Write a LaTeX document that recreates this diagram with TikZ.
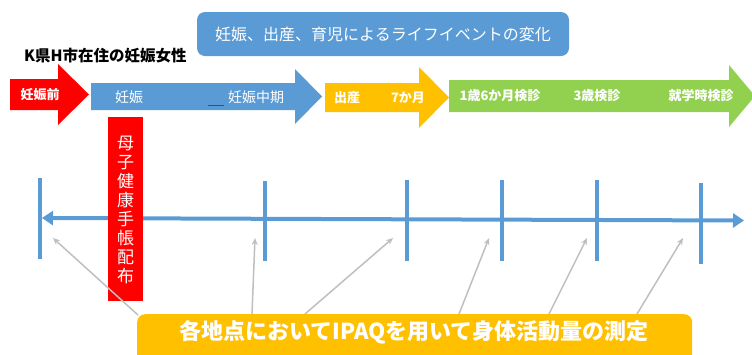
\documentclass[tikz,border=0pt]{standalone}
\usepackage{fontspec}
\setmainfont{Noto Sans CJK JP}
\usetikzlibrary{arrows.meta}
\definecolor{cblue}{HTML}{5B9BD5}
\definecolor{corange}{HTML}{FFC000}
\definecolor{cgreen}{HTML}{92D050}
\definecolor{cred}{HTML}{FF0000}
\definecolor{cgray}{HTML}{BFBFBF}
\begin{document}
\begin{tikzpicture}[x=1pt,y=-1pt,
  lbl/.style={text=white,inner sep=0pt,font=\fontsize{13}{15}\selectfont},
  lblb/.style={lbl,font=\fontsize{13}{15}\selectfont\bfseries},
  tick/.style={draw=cblue,line width=4pt},
  pointer/.style={draw=cgray,line width=1.5pt,-{Stealth[length=7pt,width=6pt]}}]
\useasboundingbox (0,0) rectangle (752,354);
% title
\node[fill=cblue,rounded corners=8pt,minimum width=372pt,minimum height=44pt,inner sep=0pt,
  text=white,font=\fontsize{16}{18}\selectfont] (title) at (383,34) {妊娠、出産、育児によるライフイベントの変化};
\node[anchor=west,inner sep=0pt,font=\fontsize{15.5}{18}\selectfont\bfseries] (subj) at (24,56) {K県H市在住の妊娠女性};
% phase arrows
\fill[cred] (10,79) -- (58,79) -- (58,64) -- (89,94.5) -- (58,125) -- (58,110) -- (10,110) -- cycle;
\fill[cblue] (91,83) -- (295,83) -- (295,69) -- (322,96.5) -- (295,124) -- (295,110) -- (91,110) -- cycle;
\fill[corange] (325,83) -- (419,83) -- (419,67) -- (449,97.5) -- (419,128) -- (419,112) -- (325,112) -- cycle;
\fill[cgreen] (449,80) -- (729,80) -- (729,65) -- (755,96) -- (729,127) -- (729,112) -- (449,112) -- cycle;
\node[lblb] (pre) at (40,94.5) {妊娠前};
\node[lbl,font=\fontsize{14}{16}\selectfont] (preg) at (129,97) {妊娠};
\node[lbl,font=\fontsize{14}{16}\selectfont] (mid) at (256,97) {妊娠中期};
\draw[cred,line width=0.6pt] (208,105) -- (224,105);
\node[lblb] (birth) at (347,97.5) {出産};
\node[lblb] (m7) at (408,97.5) {7か月};
\node[lblb] (y1) at (500,96) {1歳6か月検診};
\node[lblb] (y3) at (597,96) {3歳検診};
\node[lblb] (sch) at (701,96) {就学時検診};
% timeline ticks
\foreach \n/\x/\a/\b in {t1/40/178/259, t2/265/181/261, t3/407/180/261, t4/502/180/261, t5/597/180/261, t6/701/183/264}{
  \draw[tick] (\x,\a) -- (\x,\b);
  \coordinate (\n) at (\x,\b);
}
\coordinate (tl) at (42,218);
\coordinate (tr) at (744,220.5);
\draw[cblue,line width=4pt,{Triangle[length=11pt,width=14pt]}-{Triangle[length=11pt,width=14pt]}] (tl) -- (tr);
% handbook
\node[fill=cred,minimum width=35pt,minimum height=184pt,inner sep=0pt] (hb) at (125.5,209) {};
\node[text=white,align=center,inner sep=0pt,font=\fontsize{17}{19}\selectfont] (hbt) at (125.5,210) {母\\子\\健\\康\\手\\帳\\配\\布};
% bottom box
\node[fill=corange,rounded corners=8pt,minimum width=555pt,minimum height=60pt,inner sep=0pt,anchor=north west] (ipaq) at (137,314) {};
\node[text=white,inner sep=0pt,font=\fontsize{22}{24}\selectfont\bfseries] (ipaqt) at (414,332) {各地点においてIPAQを用いて身体活動量の測定};
% pointers
\coordinate (p1) at (53,238);
\coordinate (p2) at (255,238);
\coordinate (p3) at (393,238);
\coordinate (p4) at (489,238);
\coordinate (p5) at (587,238);
\coordinate (p6) at (683,238);
\draw[pointer] (ipaq.north west) ++(1,1) -- (p1);
\draw[pointer] ([xshift=115pt]ipaq.north west) -- (p2);
\draw[pointer] ([xshift=168pt]ipaq.north west) -- (p3);
\draw[pointer] ([xshift=322pt]ipaq.north west) -- (p4);
\draw[pointer] ([xshift=412pt]ipaq.north west) -- (p5);
\draw[pointer] ([xshift=500pt]ipaq.north west) -- (p6);
\end{tikzpicture}
\end{document}
